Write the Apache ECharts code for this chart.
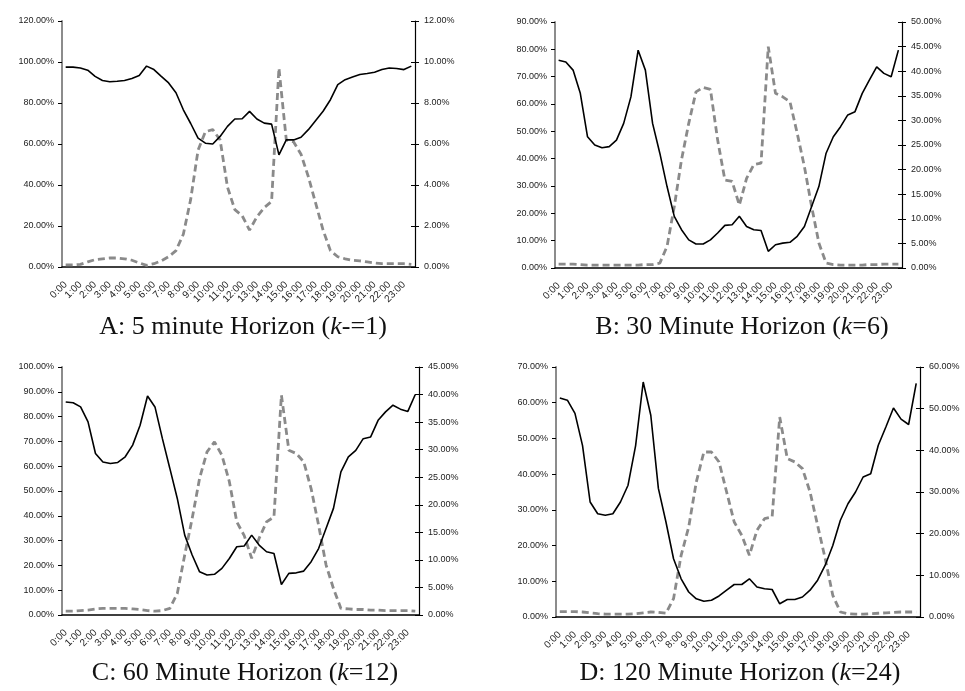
<!DOCTYPE html>
<html lang="en">
<head>
    <meta charset="UTF-8">
    <title>Forecast Horizon</title>
    <script src="https://cdn.jsdelivr.net/npm/echarts@6/dist/echarts.min.js"></script>
    <style>
        html, body { margin: 0; padding: 0; background: #fff; }
        #main { width: 965px; height: 691px; }
    </style>
</head>
<body>
<div id="main"></div>
<script>
    // half-hour categories, only whole hours are labelled
    var hours = ['0:00', '0:30', '1:00', '1:30', '2:00', '2:30', '3:00', '3:30', '4:00', '4:30', '5:00', '5:30',
        '6:00', '6:30', '7:00', '7:30', '8:00', '8:30', '9:00', '9:30', '10:00', '10:30', '11:00', '11:30',
        '12:00', '12:30', '13:00', '13:30', '14:00', '14:30', '15:00', '15:30', '16:00', '16:30', '17:00', '17:30',
        '18:00', '18:30', '19:00', '19:30', '20:00', '20:30', '21:00', '21:30', '22:00', '22:30', '23:00', '23:30'];

    // A: 5 minute
    var solidA = [97.5, 97.5, 97.1, 96, 93, 91, 90.4, 90.6, 91, 92, 93.4, 98,
        96.3, 93, 89.8, 85, 76.7, 70, 62.9, 60.4, 60, 63.7, 68.6, 72.2,
        72.3, 75.9, 72.2, 70.2, 69.7, 54.7, 62, 62, 63.3, 67, 71.5, 76,
        81.6, 89, 91.4, 92.7, 93.9, 94.4, 95, 96.3, 97.1, 96.8, 96.3, 98];
    var dashA = [0.1, 0.1, 0.13, 0.25, 0.36, 0.4, 0.44, 0.44, 0.4, 0.33, 0.2, 0.08,
        0.16, 0.3, 0.5, 0.8, 1.6, 3.3, 5.7, 6.6, 6.7, 6.2, 3.9, 2.8,
        2.5, 1.8, 2.45, 2.9, 3.2, 9.7, 6.2, 6.1, 5.5, 4.4, 3.1, 1.8,
        0.8, 0.5, 0.4, 0.33, 0.3, 0.25, 0.2, 0.16, 0.16, 0.16, 0.16, 0.13];

    // B: 30 minute
    var solidB = [76, 75.4, 72.4, 63.9, 48, 45, 44, 44.4, 46.8, 52.9, 62.6, 79.7,
        72.4, 52.9, 42, 29.8, 18.9, 14, 10.3, 8.8, 8.8, 10.3, 12.8, 15.6,
        15.8, 18.9, 15.2, 14, 13.7, 6.1, 8.5, 9.1, 9.4, 11.6, 15.2, 22.5,
        29.8, 42, 48, 51.7, 56, 57.2, 63.9, 68.8, 73.6, 71.2, 70, 79.7];
    var dashB = [0.8, 0.8, 0.8, 0.7, 0.6, 0.6, 0.6, 0.6, 0.6, 0.6, 0.6, 0.6,
        0.7, 0.7, 1.0, 4.4, 12.5, 22, 29.4, 35.8, 36.7, 36.3, 26, 17.9,
        17.6, 12.8, 18.2, 21, 21.3, 45, 35.5, 34.8, 33.8, 27.4, 20.6, 12.5,
        5.1, 1.0, 0.7, 0.6, 0.6, 0.6, 0.6, 0.7, 0.7, 0.8, 0.8, 0.8];

    // C: 60 minute
    var solidC = [85.9, 85.6, 83.9, 77.9, 65.1, 61.7, 61.1, 61.5, 63.8, 68.5, 76.5, 88.3,
        83.9, 71.1, 59.1, 47, 32.2, 24.2, 17.4, 16.1, 16.4, 18.8, 22.8, 27.5,
        27.8, 32.2, 28.2, 25.5, 24.8, 12.3, 16.8, 17, 17.7, 21.5, 26.8, 34.9,
        43, 57.7, 63.8, 66.4, 71.1, 71.8, 78.5, 81.9, 84.6, 83, 82.1, 88.9];
    var dashC = [0.7, 0.7, 0.8, 0.9, 1.1, 1.2, 1.2, 1.2, 1.2, 1.1, 1.0, 0.8,
        0.7, 0.8, 1.2, 3.9, 10.9, 17.5, 24.8, 29.6, 31.4, 29, 24.2, 16.9,
        14.4, 10.3, 13.9, 16.9, 17.8, 39.9, 29.9, 29.3, 27.8, 22.9, 16.3, 9.1,
        4.8, 1.2, 1.1, 1.0, 1.0, 0.9, 0.9, 0.8, 0.8, 0.8, 0.8, 0.7];

    // D: 120 minute
    var solidD = [61.3, 60.7, 57, 48, 32.2, 28.9, 28.5, 28.9, 32.2, 36.9, 48, 65.8,
        56.5, 36, 26.6, 16.3, 10.7, 7, 5.1, 4.4, 4.7, 5.9, 7.5, 9.1,
        9.1, 10.7, 8.4, 7.9, 7.7, 3.7, 4.9, 4.9, 5.6, 7.5, 10.3, 14.5,
        20, 27.1, 31.7, 35, 39.2, 40.1, 48.1, 53.2, 58.5, 55.4, 53.9, 65.4];
    var dashD = [1.3, 1.3, 1.3, 1.2, 1.0, 0.8, 0.7, 0.7, 0.7, 0.7, 0.8, 1.0,
        1.2, 1.1, 0.9, 4.4, 14.8, 21.6, 32.4, 39.6, 39.6, 37.2, 30, 22.8,
        19.6, 14.8, 20.8, 23.6, 24, 48, 38, 37.2, 35.6, 30, 22, 14,
        5.2, 1.2, 0.8, 0.7, 0.7, 0.8, 0.9, 1.0, 1.1, 1.2, 1.2, 1.2];

    var panels = [
        { title: 'A: 5 minute Horizon ({k|k}-=1)', tx: 243, ty: 314,
          grid: { left: 62, top: 21, width: 353, height: 246 },
          left: [0, 120, 20], right: [0, 12, 2], solid: solidA, dash: dashA },
        { title: 'B: 30 Minute Horizon ({k|k}=6)', tx: 742, ty: 314,
          grid: { left: 555, top: 22, width: 347, height: 246 },
          left: [0, 90, 10], right: [0, 50, 5], solid: solidB, dash: dashB },
        { title: 'C: 60 Minute Horizon ({k|k}=12)', tx: 245, ty: 660,
          grid: { left: 62, top: 367, width: 357, height: 248 },
          left: [0, 100, 10], right: [0, 45, 5], solid: solidC, dash: dashC },
        { title: 'D: 120 Minute Horizon ({k|k}=24)', tx: 740, ty: 660,
          grid: { left: 556, top: 367, width: 364, height: 250 },
          left: [0, 70, 10], right: [0, 60, 10], solid: solidD, dash: dashD }
    ];

    function pct(v) {
        return v.toFixed(2) + '%';
    }

    var option = {
        backgroundColor: '#fff',
        animation: false,
        title: [], grid: [], xAxis: [], yAxis: [], series: []
    };

    panels.forEach(function (p, i) {
        option.title.push({
            text: p.title,
            left: p.tx, top: p.ty, textAlign: 'center', padding: 0,
            textStyle: {
                fontFamily: 'Liberation Serif', fontSize: 26, fontWeight: 'normal', color: '#111',
                rich: { k: { fontFamily: 'Liberation Serif', fontSize: 26, fontStyle: 'italic', color: '#111' } }
            }
        });
        option.grid.push(p.grid);
        option.xAxis.push({
            type: 'category', gridIndex: i, data: hours, boundaryGap: true,
            axisLine: { lineStyle: { color: '#000', width: 1.5 } },
            axisTick: { length: 3, lineStyle: { color: '#000' } },
            axisLabel: { interval: 1, rotate: 45, fontSize: 10, margin: 16, color: '#222', fontFamily: 'Liberation Sans' }
        });
        // left axis (solid line)
        option.yAxis.push({
            type: 'value', gridIndex: i, min: p.left[0], max: p.left[1], interval: p.left[2],
            splitLine: { show: false },
            axisLine: { show: true, lineStyle: { color: '#8c8c8c', width: 2 } },
            axisTick: { show: true, length: 4, lineStyle: { color: '#000' } },
            axisLabel: { formatter: pct, fontSize: 9, margin: 8, color: '#222', fontFamily: 'Liberation Sans' }
        });
        // right axis (dashed line)
        option.yAxis.push({
            type: 'value', gridIndex: i, position: 'right', min: p.right[0], max: p.right[1], interval: p.right[2],
            splitLine: { show: false },
            axisLine: { show: true, lineStyle: { color: '#000', width: 1.2 } },
            axisTick: { show: true, length: 4, lineStyle: { color: '#000' } },
            axisLabel: { formatter: pct, fontSize: 9, margin: 9, color: '#222', fontFamily: 'Liberation Sans' }
        });
        // inner half of the crossing ticks on the right axis
        option.yAxis.push({
            type: 'value', gridIndex: i, position: 'right', min: p.right[0], max: p.right[1], interval: p.right[2],
            splitLine: { show: false },
            axisLine: { show: false },
            axisTick: { show: true, inside: true, length: 4, lineStyle: { color: '#000' } },
            axisLabel: { show: false }
        });
        option.series.push({
            type: 'line', xAxisIndex: i, yAxisIndex: i * 3, data: p.solid,
            showSymbol: false, smooth: false,
            lineStyle: { color: '#000', width: 1.6 }, z: 3
        });
        option.series.push({
            type: 'line', xAxisIndex: i, yAxisIndex: i * 3 + 1, data: p.dash,
            showSymbol: false, smooth: false,
            lineStyle: { color: '#8a8a8a', width: 2.8, type: [7, 4] }, z: 2
        });
    });

    var chart = echarts.init(document.getElementById('main'));
    chart.setOption(option);
</script>
</body>
</html>
